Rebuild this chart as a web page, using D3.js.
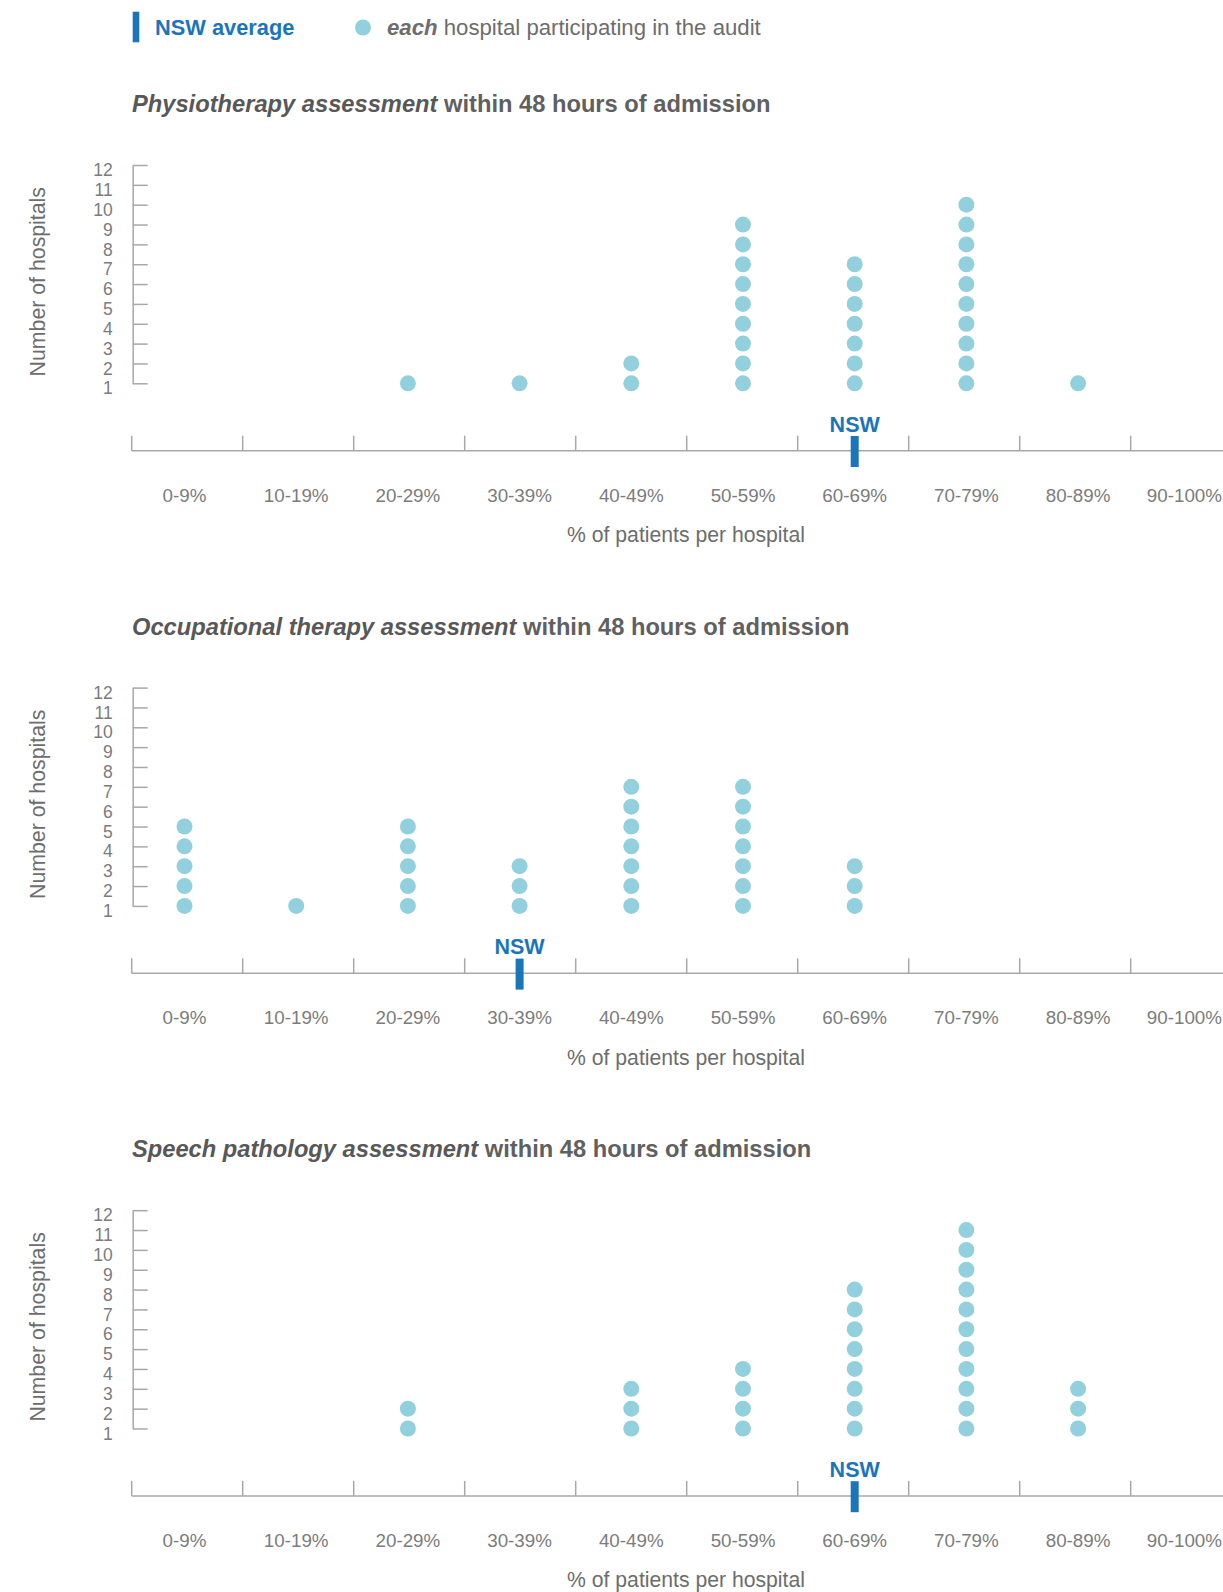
<!DOCTYPE html>
<html>
<head>
<meta charset="utf-8">
<script src="https://cdn.jsdelivr.net/npm/d3@7"></script>
<style>
  html, body { margin: 0; padding: 0; background: #fff; }
  svg { display: block; }
  text { font-family: "Liberation Sans", Arial, sans-serif; }
</style>
</head>
<body>
<svg id="chart" width="1223" height="1592"></svg>
<script>
// ---------------- DATA ----------------
const categories = ["0-9%", "10-19%", "20-29%", "30-39%", "40-49%", "50-59%", "60-69%", "70-79%", "80-89%", "90-100%"];
const yTickValues = [1, 2, 3, 4, 5, 6, 7, 8, 9, 10, 11, 12];

const physioCounts = [0, 0, 1, 1, 2, 9, 7, 10, 1, 0];
const otCounts     = [5, 1, 5, 3, 7, 7, 3, 0, 0, 0];
const speechCounts = [0, 0, 2, 0, 3, 4, 8, 11, 3, 0];

const nswCategory = ["60-69%", "30-39%", "60-69%"];

const titleBold = ["Physiotherapy assessment", "Occupational therapy assessment", "Speech pathology assessment"];
const titleRest = " within 48 hours of admission";
const yAxisTitle = "Number of hospitals";
const xAxisTitle = "% of patients per hospital";
const legendNsw = "NSW average";
const legendEachBold = "each";
const legendEachRest = " hospital participating in the audit";

const seriesCounts = [physioCounts, otCounts, speechCounts];

// ---------------- STYLE ----------------
const DOT = "#93D0DD";
const NSW = "#1B75BB";
const TEXT = "#6d6d6d";
const TICKTEXT = "#7c7c7c";
const AXIS = "#a8a8a8";
const WIDTH = 1223;

const svg = d3.select("#chart");

// scales
const xBand = d3.scaleBand().domain(categories).range([131.7, 131.7 + 10 * 111]);
const xPoint = d3.scalePoint().domain(categories).range([184.5, 1189.8]);
const y = d3.scaleLinear().domain([1, 12]).range([383.3, 165]);
const PANEL = 522.6;

// ---------------- LEGEND ----------------
const lg = svg.append("g");
lg.append("rect").attr("x", 132.7).attr("y", 11.7).attr("width", 6.6).attr("height", 30.6).attr("fill", NSW);
lg.append("text").attr("x", 155).attr("y", 35).attr("fill", NSW)
  .style("font-size", "21.8px").style("font-weight", "bold").text(legendNsw);
lg.append("circle").attr("cx", 363).attr("cy", 27.5).attr("r", 8).attr("fill", DOT);
const lt = lg.append("text").attr("x", 387).attr("y", 35).attr("fill", TEXT).style("font-size", "22.2px");
lt.append("tspan").style("font-weight", "bold").style("font-style", "italic").text(legendEachBold);
lt.append("tspan").text(legendEachRest);

// ---------------- PANELS ----------------
seriesCounts.forEach((counts, i) => {
  const g = svg.append("g").attr("transform", `translate(0,${i * PANEL})`);

  // title
  const t = g.append("text").attr("x", 132).attr("y", 112).attr("fill", "#585858").style("font-size", "23.7px");
  t.append("tspan").style("font-weight", "bold").style("font-style", "italic").text(titleBold[i]);
  t.append("tspan").style("font-weight", "bold").attr("fill", "#606060").text(titleRest);

  // y axis
  const yAxis = d3.axisLeft(y).tickValues(yTickValues).tickSizeInner(-15).tickSizeOuter(0).tickPadding(20);
  const ya = g.append("g").attr("transform", "translate(132.7,0)").call(yAxis);
  ya.select(".domain").attr("stroke", AXIS).attr("stroke-width", 1.5);
  ya.selectAll(".tick line").attr("stroke", AXIS).attr("stroke-width", 1.5);
  ya.selectAll(".tick text").attr("fill", TICKTEXT).attr("dy", "0.95em").attr("y", -6)
    .style("font-size", "17.5px").style("font-family", "'Liberation Sans', Arial, sans-serif");

  // y axis title
  g.append("text").attr("transform", `translate(45,281.7) rotate(-90)`)
    .attr("text-anchor", "middle").attr("fill", TEXT).style("font-size", "21.3px").text(yAxisTitle);

  // x axis
  const axisY = 450.7;
  g.append("line").attr("x1", xBand.range()[0]).attr("x2", WIDTH).attr("y1", axisY).attr("y2", axisY)
    .attr("stroke", AXIS).attr("stroke-width", 1.5);
  g.selectAll(".xtick").data(categories).join("line").attr("class", "xtick")
    .attr("x1", d => xBand(d)).attr("x2", d => xBand(d))
    .attr("y1", axisY - 15).attr("y2", axisY)
    .attr("stroke", AXIS).attr("stroke-width", 1.5);
  g.selectAll(".xlabel").data(categories).join("text").attr("class", "xlabel")
    .attr("x", d => xPoint(d)).attr("y", 501.5).attr("text-anchor", "middle")
    .attr("fill", TICKTEXT).style("font-size", "18.8px").text(d => d)
    .each(function () {
      // keep labels inside the page
      const w = this.getComputedTextLength();
      const cx = +this.getAttribute("x");
      if (cx + w / 2 > WIDTH - 1) this.setAttribute("x", WIDTH - 1 - w / 2);
    });
  g.append("text").attr("x", 686).attr("y", 542).attr("text-anchor", "middle")
    .attr("fill", TEXT).style("font-size", "21.2px").text(xAxisTitle);

  // dots
  const dots = [];
  counts.forEach((c, k) => { for (let j = 1; j <= c; j++) dots.push({ cat: categories[k], n: j }); });
  g.selectAll(".dot").data(dots).join("circle").attr("class", "dot")
    .attr("cx", d => xPoint(d.cat)).attr("cy", d => y(d.n)).attr("r", 8).attr("fill", DOT);

  // NSW marker
  const nx = xPoint(nswCategory[i]);
  g.append("rect").attr("x", nx - 4).attr("y", 436).attr("width", 8).attr("height", 31).attr("fill", NSW);
  g.append("text").attr("x", nx).attr("y", 431.7).attr("text-anchor", "middle").attr("fill", NSW)
    .style("font-size", "21.5px").style("font-weight", "bold").text("NSW");
});
</script>
</body>
</html>
